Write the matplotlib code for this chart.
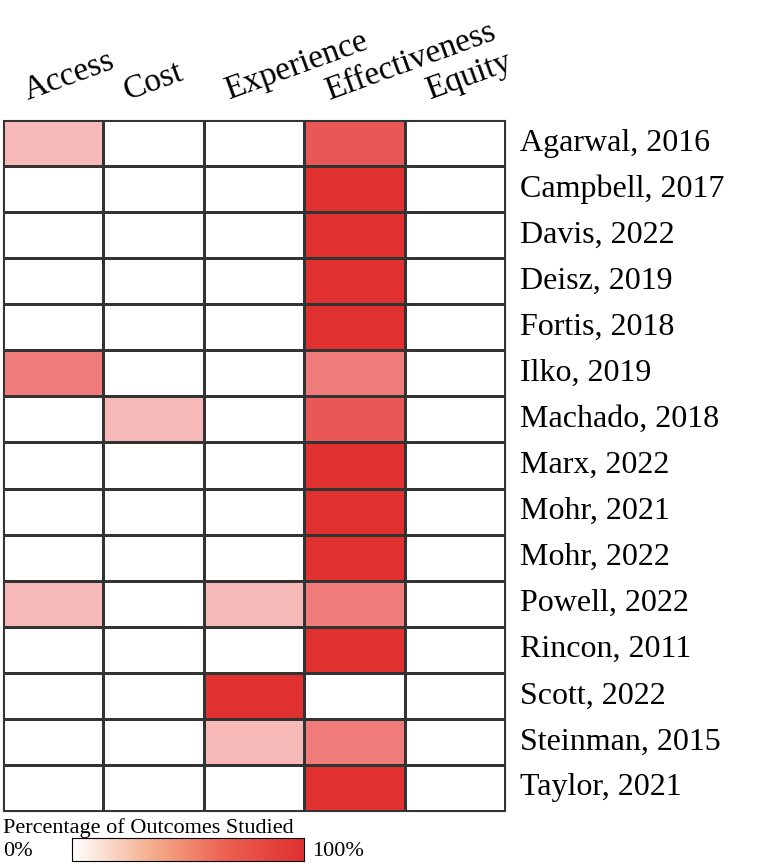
import matplotlib
matplotlib.use("Agg")
import matplotlib.pyplot as plt
import numpy as np
from matplotlib.colors import LinearSegmentedColormap

outcomes = ["Access", "Cost", "Experience", "Effectiveness", "Equity"]
studies = ["Agarwal, 2016", "Campbell, 2017", "Davis, 2022", "Deisz, 2019", "Fortis, 2018",
           "Ilko, 2019", "Machado, 2018", "Marx, 2022", "Mohr, 2021", "Mohr, 2022",
           "Powell, 2022", "Rincon, 2011", "Scott, 2022", "Steinman, 2015", "Taylor, 2021"]
access =        [25, 0, 0, 0, 0, 50, 0, 0, 0, 0, 25, 0, 0, 0, 0]
cost =          [0, 0, 0, 0, 0, 0, 25, 0, 0, 0, 0, 0, 0, 0, 0]
experience =    [0, 0, 0, 0, 0, 0, 0, 0, 0, 0, 25, 0, 100, 25, 0]
effectiveness = [75, 100, 100, 100, 100, 50, 75, 100, 100, 100, 50, 100, 0, 50, 100]
equity =        [0] * 15

plt.rcParams["font.family"] = "Liberation Serif"
data = np.array([access, cost, experience, effectiveness, equity]).T
cmap = LinearSegmentedColormap.from_list(
    "wr", [(0, "#FFFFFF"), (0.25, "#F7B8B8"), (0.5, "#EF7C7A"), (0.75, "#E85656"), (1, "#E03030")])
barcmap = LinearSegmentedColormap.from_list("bar", ["#FFFFFF", "#F5B090", "#EC6050", "#E03030"])

W, H = 759, 864
fig = plt.figure(figsize=(W / 100, H / 100), dpi=100)
ax = fig.add_axes([3 / W, (H - 811) / H, 502 / W, 691 / H])
ax.pcolormesh(data, cmap=cmap, vmin=0, vmax=100, edgecolors="#333333", linewidth=1)
ax.set_xlim(0, 5); ax.set_ylim(15, 0)
ax.set_xticks([]); ax.set_yticks([])
for s in ax.spines.values():
    s.set_color("#333333")
for i, o in enumerate(outcomes):
    ax.text(i + 0.27, -0.3, o, rotation=20, ha="left", va="bottom", fontsize=24,
            rotation_mode="anchor")
for j, s in enumerate(studies):
    ax.text(5.15, j + 0.5, s, ha="left", va="center", fontsize=23)

fig.text(3 / W, 1 - 828 / H, "Percentage of Outcomes Studied", fontsize=16, va="center")
fig.text(3 / W, 1 - 851 / H, "0%", fontsize=16, va="center")
fig.text(312 / W, 1 - 851 / H, "100%", fontsize=16, va="center")
cax = fig.add_axes([72 / W, (H - 861) / H, 232 / W, 23 / H])
cax.imshow(np.linspace(0, 100, 256)[None, :], aspect="auto", cmap=barcmap, vmin=0, vmax=100)
cax.set_xticks([]); cax.set_yticks([])
fig.savefig("out.png", dpi=100)
